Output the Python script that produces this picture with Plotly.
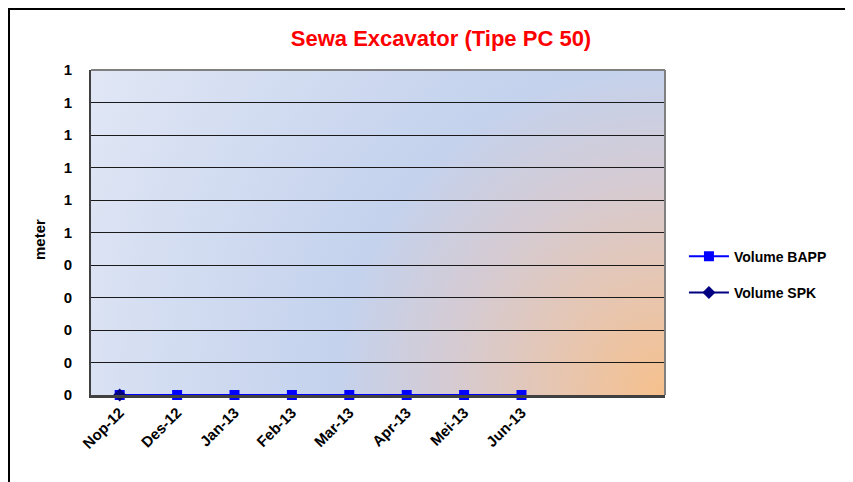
import base64
import plotly.graph_objects as go

# data
bulan = ["Nop-12", "Des-12", "Jan-13", "Feb-13", "Mar-13", "Apr-13", "Mei-13", "Jun-13"]
kategori = bulan + [" ", "  "]
volume_bapp = [0, 0, 0, 0, 0, 0, 0, 0]
volume_spk = [0]
y_ticks = [0, 0.1, 0.2, 0.3, 0.4, 0.5, 0.6, 0.7, 0.8, 0.9, 1.0]
y_labels = ["0", "0", "0", "0", "0", "1", "1", "1", "1", "1", "1"]

FONT = "Arial, Liberation Sans, sans-serif"

# page body has an 8px margin, so the plot area is placed 8px up/left
L, T, W, H = 83, 62, 574, 325

# excel-like gradient fill for the plot area
svg = """<svg xmlns='http://www.w3.org/2000/svg' width='574' height='325' viewBox='0 0 574 325' preserveAspectRatio='none'>
<defs><radialGradient id='g' gradientUnits='userSpaceOnUse' cx='574' cy='325' r='660'>
<stop offset='0' stop-color='#f6c08c'/>
<stop offset='0.17' stop-color='#e6c6b2'/>
<stop offset='0.33' stop-color='#d5cbd3'/>
<stop offset='0.5' stop-color='#c4d2ed'/>
<stop offset='1' stop-color='#e1e7f5'/>
</radialGradient></defs>
<rect width='574' height='325' fill='url(#g)'/></svg>"""
bg_src = "data:image/svg+xml;base64," + base64.b64encode(svg.encode()).decode()

fig = go.Figure()

fig.add_trace(go.Scatter(
    x=bulan, y=volume_bapp, name="Volume BAPP", mode="lines+markers",
    line=dict(color="#0000ff", width=2),
    marker=dict(symbol="square", size=10, color="#0000ff"),
    cliponaxis=False, legendgroup="a"
))

fig.add_trace(go.Scatter(
    x=bulan[:len(volume_spk)], y=volume_spk, name="Volume SPK", mode="lines+markers",
    line=dict(color="#000080", width=2),
    marker=dict(symbol="diamond", size=10, color="#000080"),
    cliponaxis=False, legendgroup="b"
))

fig.update_layout(
    width=853, height=482,
    margin=dict(l=L, r=853 - L - W, t=T, b=482 - T - H),
    paper_bgcolor="white",
    plot_bgcolor="rgba(0,0,0,0)",
    font=dict(family=FONT, color="black"),
    title=dict(text="<b>Sewa Excavator (Tipe PC 50)</b>", x=433 / 853, xanchor="center",
               y=1 - 30 / 482, yanchor="middle",
               font=dict(size=22, color="#ff0000", family=FONT)),
    showlegend=True,
    legend=dict(x=1.033, xanchor="left", y=0.37, yanchor="middle",
                font=dict(size=14, family=FONT, weight="bold"), tracegroupgap=15,
                bgcolor="rgba(0,0,0,0)", itemwidth=40),
    images=[dict(source=bg_src, xref="paper", yref="paper", x=0, y=1, sizex=1, sizey=1,
                 xanchor="left", yanchor="top", sizing="stretch", layer="below")],
    xaxis=dict(type="category", categoryorder="array", categoryarray=kategori,
               range=[-0.5, len(kategori) - 0.5], showgrid=False, zeroline=False,
               tickangle=-45, tickfont=dict(size=15, family=FONT, weight="bold"),
               showline=True, linecolor="#404040", linewidth=3, ticks=""),
    yaxis=dict(range=[0, 1], tickvals=y_ticks, ticktext=y_labels,
               tickfont=dict(size=15, family=FONT, weight="bold"), ticklabelstandoff=14,
               showgrid=True, gridcolor="#1a1a1a", gridwidth=1, zeroline=False,
               showline=True, linecolor="#404040", linewidth=2, ticks=""),
)

# plot-area frame (top / right) and outer chart border (at the figure's top-left edge)
fig.add_shape(type="line", xref="paper", yref="paper", x0=0, x1=1, y0=1, y1=1,
              line=dict(color="#808080", width=2))
fig.add_shape(type="line", xref="paper", yref="paper", x0=1, x1=1, y0=0, y1=1,
              line=dict(color="#808080", width=2))
fig.add_shape(type="rect", xref="paper", yref="paper",
              x0=(1 - L) / W, x1=1.6, y0=-0.5, y1=1 + (T - 1) / H,
              line=dict(color="black", width=2))

fig.add_annotation(text="<b>meter</b>", textangle=-90, xref="paper", yref="paper",
                   x=(40 - 91) / W, y=(395 - 240) / H, xanchor="center", yanchor="middle",
                   showarrow=False, font=dict(size=15, family=FONT))

fig.write_html("out.html")
